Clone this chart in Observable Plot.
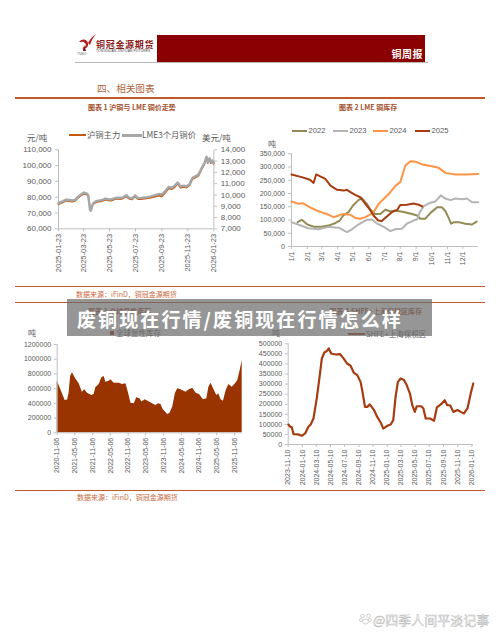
<!DOCTYPE html>
<html><head><meta charset="utf-8">
<script src="https://cdn.jsdelivr.net/npm/d3@7"></script>
<script src="https://cdn.jsdelivr.net/npm/@observablehq/plot@0.6"></script>
<style>
html,body{margin:0;padding:0;background:#fff;}
#page{position:relative;width:500px;height:636px;overflow:hidden;background:#fff;font-family:"Liberation Sans",Arial,sans-serif;}
.abs{position:absolute;white-space:nowrap;line-height:1;}
.cjk{font-family:"Noto Sans CJK SC","Liberation Sans",sans-serif;}
.box{position:absolute;}
</style></head>
<body><div id="page"></div>
<script>
// ---------------- DATA ----------------
// Chart 1: SHFE main contract (yuan/t) vs LME 3M copper (USD/t)
const copperDates = ["2025-01-23","2025-02-03","2025-02-10","2025-02-17","2025-02-24","2025-03-03","2025-03-10","2025-03-17","2025-03-24","2025-03-31","2025-04-03","2025-04-07","2025-04-09","2025-04-14","2025-04-21","2025-04-28","2025-05-06","2025-05-13","2025-05-20","2025-05-27","2025-06-03","2025-06-10","2025-06-17","2025-06-24","2025-07-01","2025-07-08","2025-07-15","2025-07-22","2025-07-29","2025-08-05","2025-08-12","2025-08-19","2025-08-26","2025-09-02","2025-09-09","2025-09-16","2025-09-23","2025-09-30","2025-10-09","2025-10-16","2025-10-23","2025-10-30","2025-11-06","2025-11-13","2025-11-20","2025-11-27","2025-12-04","2025-12-11","2025-12-18","2025-12-25","2026-01-01","2026-01-06","2026-01-09","2026-01-13","2026-01-16","2026-01-20","2026-01-23"];
const shfeMain = [75500,76800,77800,77500,77200,77600,79500,81000,82200,81500,80500,73500,72500,75500,76800,77200,77500,78400,78000,77800,78500,79000,78800,79200,80500,79000,78600,80300,78700,78800,79000,79200,79500,80000,80500,81000,80500,82500,85500,85000,86300,88500,86000,86500,86000,87500,91500,92500,93500,97500,101000,105000,101500,104000,101500,102500,101000];
const lme3M = [9270,9450,9590,9550,9510,9560,9830,10040,10210,10110,9970,8700,8600,9250,9450,9500,9550,9680,9620,9600,9700,9760,9730,9790,9970,9760,9700,9950,9720,9740,9770,9800,9850,9920,10000,10080,10050,10300,10700,10640,10820,11100,10760,10830,10750,10960,11520,11660,11800,12350,12830,13380,12900,13250,12920,13050,12840];
const c1Domain = ["2025-01-23","2026-01-23"];
const c1DateTicks = ["2025-01-23","2025-03-23","2025-05-23","2025-07-23","2025-09-23","2025-11-23","2026-01-23"];
const c1LeftTicks = [60000,70000,80000,90000,100000,110000];
const c1RightTicks = [7000,8000,9000,10000,11000,12000,13000,14000];

// Chart 2: LME copper inventory by year (day of year offset, tonnes in thousands)
const years = ["2022","2023","2024","2025"];
const yearColors = ["#948a54","#b4b4b4","#ff9447","#a83c10"];
const lme2022Day = [12,20,31,43,59,72,85,94,101,111,120,131,137,147,154,163,173,183,193,202,219,235,245,251,261,271,284,293,300,307,311,317,326,339,352,361];
const lme2022 = [92,101,83,75,75,79,88,98,117,130,155,176,182,161,139,123,123,139,132,136,130,123,117,105,105,127,148,148,134,105,86,92,92,86,83,94];
const lme2023Day = [0,14,33,53,72,92,108,118,131,147,157,167,180,193,202,215,225,238,245,250,258,268,281,291,300,310,320,333,342,352,364];
const lme2023 = [92,82,69,65,74,71,54,65,84,101,102,86,74,58,65,67,86,98,103,130,152,163,171,193,181,175,181,178,181,167,167];
const lme2024Day = [0,14,23,36,49,62,72,82,92,101,115,124,134,144,154,162,170,180,190,203,212,217,222,232,242,255,274,287,300,320,339,364];
const lme2024 = [170,161,163,148,136,127,120,111,117,123,120,108,105,111,121,136,161,180,199,230,243,274,306,322,320,310,303,297,278,272,272,274];
const lme2025Day = [0,20,36,43,48,59,66,76,89,102,108,115,124,134,144,154,160,169,176,186,196,206,212,225,238,248,255];
const lme2025 = [272,262,252,240,272,262,255,230,214,211,214,205,195,186,161,136,117,98,96,113,130,138,157,158,162,158,151];
const c2YTicks = [0,50000,100000,150000,200000,250000,300000,350000];
const c2MonthLabels = ["1/1","2/1","3/1","4/1","5/1","6/1","7/1","8/1","9/1","10/1","11/1","12/1"];

// Chart 3: global visible inventory (tonnes)
const globalDates = ["2020-11-06","2020-11-26","2020-12-30","2021-01-27","2021-02-21","2021-03-08","2021-03-24","2021-04-12","2021-05-15","2021-06-20","2021-07-23","2021-08-17","2021-09-14","2021-10-28","2021-11-21","2021-12-08","2022-01-12","2022-02-09","2022-03-05","2022-03-21","2022-04-25","2022-05-12","2022-06-16","2022-08-06","2022-09-10","2022-10-15","2022-11-12","2022-12-05","2023-01-09","2023-02-02","2023-03-07","2023-03-28","2023-05-01","2023-06-12","2023-07-16","2023-08-19","2023-09-16","2023-10-10","2023-11-03","2023-12-18","2024-01-11","2024-02-08","2024-03-06","2024-03-30","2024-05-03","2024-06-24","2024-07-28","2024-09-01","2024-10-06","2024-11-09","2024-12-20","2025-01-24","2025-02-14","2025-03-08","2025-04-12","2025-05-06","2025-05-26","2025-06-20","2025-07-14","2025-08-11","2025-09-08","2025-10-12","2025-11-15","2025-12-09","2026-01-02","2026-01-23"];
const globalStock = [701000,643000,530000,439000,446000,530000,765000,815000,734000,666000,552000,584000,539000,507000,521000,611000,656000,747000,765000,688000,702000,720000,675000,675000,656000,666000,530000,403000,394000,476000,462000,417000,448000,417000,394000,371000,394000,385000,312000,249000,267000,349000,530000,598000,584000,552000,584000,607000,539000,521000,448000,462000,620000,675000,575000,507000,530000,448000,430000,575000,656000,620000,666000,711000,847000,983000];
const c3Domain = ["2020-11-06","2026-01-23"];
const c3DateTicks = ["2020-11-06","2021-05-06","2021-11-06","2022-05-06","2022-11-06","2023-05-06","2023-11-06","2024-05-06","2024-11-06","2025-05-06","2025-11-06"];
const c3YTicks = [0,200000,400000,600000,800000,1000000,1200000];

// Chart 4: SHFE + Shanghai bonded inventory (tonnes)
const shDates = ["2023-11-11","2023-11-19","2023-11-26","2023-12-03","2023-12-24","2024-01-07","2024-01-22","2024-02-05","2024-02-15","2024-02-27","2024-03-12","2024-03-27","2024-04-03","2024-04-14","2024-04-25","2024-05-03","2024-05-13","2024-06-01","2024-06-20","2024-07-04","2024-07-21","2024-08-05","2024-08-19","2024-09-03","2024-09-17","2024-09-24","2024-10-06","2024-10-16","2024-10-27","2024-11-14","2024-11-28","2024-12-15","2024-12-24","2025-01-10","2025-01-25","2025-02-05","2025-02-15","2025-02-25","2025-03-09","2025-03-23","2025-04-04","2025-04-18","2025-04-28","2025-05-09","2025-05-17","2025-06-06","2025-06-15","2025-06-25","2025-07-14","2025-07-31","2025-08-12","2025-08-29","2025-09-15","2025-09-26","2025-10-08","2025-10-22","2025-11-09","2025-11-23","2025-12-07","2025-12-22","2026-01-05","2026-01-16"];
const shStock = [99000,88000,85000,51000,50000,43000,55000,88000,99000,129000,228000,361000,427000,457000,465000,477000,452000,447000,449000,430000,402000,391000,356000,344000,311000,270000,187000,187000,199000,171000,137000,104000,79000,93000,99000,121000,237000,311000,328000,320000,295000,253000,195000,162000,190000,190000,179000,129000,129000,118000,184000,199000,220000,195000,195000,162000,171000,162000,154000,179000,253000,303000];
const c4Domain = ["2023-11-10","2026-01-17"];
const c4DateTicks = ["2023-11-10","2024-01-10","2024-03-10","2024-05-10","2024-07-10","2024-09-10","2024-11-10","2025-01-10","2025-03-10","2025-05-10","2025-07-10","2025-09-10","2025-11-10","2026-01-10"];
const c4YTicks = [0,50000,100000,150000,200000,250000,300000,350000,400000,450000,500000];

// ---------------- HELPERS ----------------
const page = document.getElementById("page");
const P = s => new Date(s + "T00:00:00Z");
const fmtDate = d3.utcFormat("%Y-%m-%d");
const AX = "#bfbfbf", TX = "#595959";
const baseStyle = {fontFamily: '"Liberation Sans", Arial, sans-serif', fontSize: "7px", color: TX, background: "transparent", overflow: "visible"};

function txt(s, x, cy, size, o = {}) {
  const el = document.createElement("div");
  el.className = "abs" + (o.cjk === false ? "" : " cjk");
  el.textContent = s;
  if (o.right !== undefined) el.style.right = (500 - o.right) + "px"; else el.style.left = x + "px";
  el.style.top = (cy - size / 2) + "px";
  el.style.fontSize = size + "px";
  el.style.color = o.color || TX;
  if (o.weight) el.style.fontWeight = o.weight;
  if (o.ls) el.style.letterSpacing = o.ls + "px";
  if (o.css) Object.assign(el.style, o.css);
  page.appendChild(el);
  return el;
}
function box(x, y, w, h, bg, css) {
  const el = document.createElement("div");
  el.className = "box";
  Object.assign(el.style, {left: x + "px", top: y + "px", width: w + "px", height: h + "px", background: bg}, css || {});
  page.appendChild(el);
  return el;
}
function place(svg, left, top) {
  svg.style.position = "absolute";
  svg.style.left = left + "px";
  svg.style.top = top + "px";
  page.appendChild(svg);
}

// ---------------- HEADER ----------------
const logo = document.createElementNS("http://www.w3.org/2000/svg", "svg");
logo.setAttribute("width", 22); logo.setAttribute("height", 22);
logo.innerHTML = '<path d="M3 9 C6 5 11 6 12 10 C13 14 9 17 6 15 C9 15 11 12 9 10 C7 8 5 9 3 9Z" fill="#b01e1e"/><path d="M12 10 C14 6 17 3 20 1 C17 5 15 8 14 12Z" fill="#b01e1e"/><path d="M8 12 L10 18 L7 18Z" fill="#7a0e0e"/>';
place(logo, 76, 33);
txt("TNMG", 77, 54.5, 3.2, {cjk: false, color: "#777"});
txt("铜冠金源期货", 96, 44, 9, {color: "#8b1a1a", weight: 700, ls: 0.7});
txt("TONGGUAN JINYUAN FUTURES", 96, 52, 3.4, {cjk: false, color: "#444", ls: 0.1});
box(157, 35, 268, 27, "#8b0000");
box(75, 62, 353, 1.2, "#b8b8b8");
txt("铜周报", 0, 54, 10, {right: 423, color: "#fff", weight: 600, ls: 0.5});

txt("四、相关图表", 97, 88.5, 9.6, {color: "#b0653f"});
box(15, 97, 470, 1.5, "#c0582a");
txt("图表 1  沪铜与 LME 铜价走势", 88, 107.3, 7, {color: "#a4502d", weight: 700});
txt("图表 2  LME 铜库存", 339, 107.3, 7, {color: "#a4502d", weight: 700});

// ---------------- CHART 1 ----------------
txt("元/吨", 27, 137.5, 8.5);
txt("美元/吨", 202, 137.5, 8.5);
box(69, 134, 17, 2, "#c55a11");
txt("沪铜主力", 87, 134.5, 8.3);
box(122, 133.5, 20, 3, "#a6a6a6");
txt("LME3个月铜价", 142, 134.5, 8.3);

const toLeft = v => 60000 + (v - 7000) * 50000 / 7000;
const fromLeft = v => Math.round(7000 + (v - 60000) * 7000 / 50000);
const c1 = copperDates.map((d, i) => ({date: P(d), shfe: shfeMain[i], lme: toLeft(lme3M[i])}));
const c1x = c1Domain.map(P);
place(Plot.plot({
  width: 250, height: 140,
  marginLeft: 58, marginRight: 36.7, marginTop: 9.3, marginBottom: 51.7,
  style: baseStyle,
  x: {type: "utc", domain: c1x},
  y: {domain: [c1LeftTicks[0], c1LeftTicks[c1LeftTicks.length - 1]]},
  marks: [
    Plot.ruleY([c1LeftTicks[0]], {stroke: AX}),
    Plot.ruleX(c1x, {stroke: AX}),
    Plot.axisY(c1LeftTicks, {anchor: "left", tickSize: 3, tickPadding: 4, stroke: AX, fill: TX, fontSize: 8, tickFormat: d3.format(","), label: null}),
    Plot.axisY(c1RightTicks.map(toLeft), {anchor: "right", tickSize: 3, tickPadding: 4, stroke: AX, fill: TX, fontSize: 8, tickFormat: d => d3.format(",")(fromLeft(d)), label: null}),
    Plot.axisX(c1DateTicks.map(P), {anchor: "bottom", tickRotate: -90, tickSize: 3, tickPadding: 2, stroke: AX, fill: TX, fontSize: 7.5, tickFormat: fmtDate, label: null}),
    Plot.lineY(c1, {x: "date", y: "shfe", stroke: "#c55a11", strokeWidth: 1.6}),
    Plot.lineY(c1, {x: "date", y: "lme", stroke: "#a6a6a6", strokeWidth: 2.4})
  ]
}), 0, 140);

// ---------------- CHART 2 ----------------
const legendX = [292, 333, 373, 415];
years.forEach((y, i) => {
  box(legendX[i], 129.5, 15, 2.6, yearColors[i]);
  txt(y, legendX[i] + 16.5, 130.8, 7.6, {cjk: false});
});
txt("吨", 268, 143.5, 8);
const base = P("2001-01-01");
const dayDate = n => d3.utcDay.offset(base, n);
const c2 = [];
[[lme2022Day, lme2022], [lme2023Day, lme2023], [lme2024Day, lme2024], [lme2025Day, lme2025]].forEach(([ds, vs], k) => {
  ds.forEach((d, i) => c2.push({year: years[k], date: dayDate(d), v: vs[i] * 1000}));
});
const c2x = [base, P("2001-12-31")];
const c2MonthTicks = c2MonthLabels.map(s => P("2001-" + String(s.split("/")[0]).padStart(2, "0") + "-01"));
place(Plot.plot({
  width: 250, height: 135,
  marginLeft: 41, marginRight: 22.3, marginTop: 8.3, marginBottom: 34,
  style: baseStyle,
  x: {type: "utc", domain: c2x},
  y: {domain: [c2YTicks[0], c2YTicks[c2YTicks.length - 1]]},
  color: {domain: years, range: yearColors},
  marks: [
    Plot.ruleY([c2YTicks[0]], {stroke: AX}),
    Plot.ruleX([c2x[0]], {stroke: AX}),
    Plot.axisY(c2YTicks, {anchor: "left", tickSize: 3, tickPadding: 3.5, stroke: AX, fill: TX, fontSize: 7, tickFormat: d3.format(","), label: null}),
    Plot.axisX(c2MonthTicks, {anchor: "bottom", tickRotate: -90, tickSize: 3, tickPadding: 2, stroke: AX, fill: TX, fontSize: 7, tickFormat: d => (d.getUTCMonth() + 1) + "/1", label: null}),
    Plot.lineY(c2, {x: "date", y: "v", z: "year", stroke: "year", strokeWidth: 2})
  ]
}), 250, 145);

// separators & source
box(15, 285.5, 470, 1.4, "#c0582a");
txt("数据来源：iFinD，铜冠金源期货", 76, 294.3, 7, {color: "#c86a3f"});
box(15, 301.5, 470, 1.4, "#c0582a");

// chart 3/4 titles (beneath the overlay, as in the reference)
txt("图表 3  全球显性库存", 88, 311, 7, {color: "#a4502d", weight: 700});
txt("图表 4  SHFE+上海保税区库存", 0, 311, 7, {right: 422, color: "#a4502d", weight: 700});

// ---------------- CHART 3 ----------------
txt("吨", 28, 333, 8);
box(110, 331, 4, 4, "#993300");
txt("全球显性库存", 116, 333, 7.5);
const c3 = globalDates.map((d, i) => ({date: P(d), v: globalStock[i]}));
const c3x = c3Domain.map(P);
place(Plot.plot({
  width: 250, height: 145,
  marginLeft: 56.7, marginRight: 8.3, marginTop: 6, marginBottom: 50.7,
  style: baseStyle,
  x: {type: "utc", domain: c3x},
  y: {domain: [c3YTicks[0], c3YTicks[c3YTicks.length - 1]]},
  marks: [
    Plot.areaY(c3, {x: "date", y: "v", fill: "#993300"}),
    Plot.ruleY([c3YTicks[0]], {stroke: AX}),
    Plot.ruleX([c3x[0]], {stroke: AX}),
    Plot.axisY(c3YTicks, {anchor: "left", tickSize: 3, tickPadding: 3, stroke: AX, fill: TX, fontSize: 7, tickFormat: d3.format("d"), label: null}),
    Plot.axisX(c3DateTicks.map(P), {anchor: "bottom", tickRotate: -90, tickSize: 3, tickPadding: 2, stroke: AX, fill: TX, fontSize: 7, tickFormat: fmtDate, label: null})
  ]
}), 0, 338);

// ---------------- CHART 4 ----------------
txt("吨", 272, 333, 8);
box(348, 333, 17, 2, "#a83c10");
txt("SHFE+上海保税区", 366, 334, 7.5);
const c4 = shDates.map((d, i) => ({date: P(d), v: shStock[i]}));
const c4x = c4Domain.map(P);
place(Plot.plot({
  width: 250, height: 152,
  marginLeft: 37.7, marginRight: 27, marginTop: 5.3, marginBottom: 46,
  style: baseStyle,
  x: {type: "utc", domain: c4x},
  y: {domain: [c4YTicks[0], c4YTicks[c4YTicks.length - 1]]},
  marks: [
    Plot.ruleY([c4YTicks[0]], {stroke: AX}),
    Plot.ruleX([c4x[0]], {stroke: AX}),
    Plot.axisY(c4YTicks, {anchor: "left", tickSize: 3, tickPadding: 3, stroke: AX, fill: TX, fontSize: 7, tickFormat: d3.format("d"), label: null}),
    Plot.axisX(c4DateTicks.map(P), {anchor: "bottom", tickRotate: -90, tickSize: 3, tickPadding: 2, stroke: AX, fill: TX, fontSize: 7, tickFormat: fmtDate, label: null}),
    Plot.lineY(c4, {x: "date", y: "v", stroke: "#a83c10", strokeWidth: 2.2})
  ]
}), 250, 338);

box(15, 489.5, 470, 1.4, "#c0582a");
txt("数据来源：iFinD，铜冠金源期货", 77, 497.5, 7, {color: "#c86a3f"});

// ---------------- OVERLAY BANNER ----------------
box(67, 299, 365, 37, "rgba(110,110,110,0.72)");
txt("废铜现在行情/废铜现在行情怎么样", 77, 318.5, 19, {color: "#fff", weight: 700, ls: 2.1});

// ---------------- WATERMARK ----------------
const paw = document.createElementNS("http://www.w3.org/2000/svg", "svg");
paw.setAttribute("width", 13); paw.setAttribute("height", 13);
paw.innerHTML = '<g fill="#fff" stroke="#bdbdbd" stroke-width="0.7"><circle cx="3.5" cy="4" r="1.8"/><circle cx="9.5" cy="4" r="1.8"/><circle cx="2" cy="8" r="1.5"/><circle cx="11" cy="8" r="1.5"/><ellipse cx="6.5" cy="9.5" rx="3" ry="2.5"/></g>';
place(paw, 359, 612);
txt("@四季人间平淡记事", 373, 619, 13, {color: "#fff", css: {webkitTextStroke: "0.5px #b8b8b8"}});
</script>
</body></html>
